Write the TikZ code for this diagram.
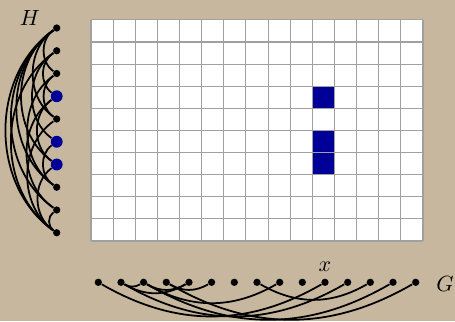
\documentclass[tikz,border=0pt]{standalone}
\definecolor{tanback}{RGB}{199, 183, 158}
\definecolor{domblue}{RGB}{0, 0, 153}
\definecolor{cellgray}{RGB}{160, 160, 160}
\usepackage{tikz}
\usetikzlibrary{positioning}

\tikzset{
  vertex/.style={circle, fill=black, inner sep=0pt, minimum size=3.3pt},
  hitvertex/.style={circle, fill=domblue, inner sep=0pt, minimum size=5.4pt},
  edge/.style={thick, black},
  hedge/.style={edge, bend right=55},
  gedge/.style={edge, bend right=30},
}

\begin{document}
\begin{tikzpicture}[x=0.4545pt, y=-0.4545pt]
  \fill[tanback] (0, 0) rectangle (455, 321);
  \useasboundingbox (0, 0) rectangle (455, 321);

  % domain table
  \begin{scope}[shift={(91, 241)}, x=10.06pt, y=10.05pt]
    \fill[white] (0, 0) rectangle (15, 10);
    \fill[domblue] (10, 6) rectangle (11, 7);
    \fill[domblue] (10, 4) rectangle (11, 5);
    \fill[domblue] (10, 3) rectangle (11, 4);
    \draw[cellgray, line width=0.5pt, xstep=10.06pt, ystep=10.05pt] (0, 0) grid (15, 10);
  \end{scope}

  % pattern graph H
  \node[vertex] (h0) at (56.7, 28) {};
  \node[vertex] (h1) at (56.7, 50.75) {};
  \node[vertex] (h2) at (56.7, 73.5) {};
  \node[hitvertex] (h3) at (56.7, 96.25) {};
  \node[vertex] (h4) at (56.7, 119) {};
  \node[hitvertex] (h5) at (56.7, 141.75) {};
  \node[hitvertex] (h6) at (56.7, 164.5) {};
  \node[vertex] (h7) at (56.7, 187.25) {};
  \node[vertex] (h8) at (56.7, 210) {};
  \node[vertex] (h9) at (56.7, 232.75) {};
  \node (hname) at (30, 18) {$H$};

  \draw[hedge] (h0) to (h2);
  \draw[hedge] (h0) to (h4);
  \draw[hedge] (h0) to (h6);
  \draw[hedge] (h0) to (h7);
  \draw[hedge] (h0) to (h8);
  \draw[hedge] (h0) to (h9);
  \draw[hedge] (h1) to (h3);
  \draw[hedge] (h1) to (h5);
  \draw[hedge] (h1) to (h9);
  \draw[hedge] (h2) to (h4);
  \draw[hedge] (h2) to (h7);
  \draw[hedge] (h3) to (h6);
  \draw[hedge] (h3) to (h8);
  \draw[hedge] (h4) to (h9);
  \draw[hedge] (h5) to (h7);
  \draw[hedge] (h6) to (h9);
  \draw[hedge] (h8) to (h9);

  % target graph G
  \node[vertex] (g0) at (98.3, 282.3) {};
  \node[vertex] (g1) at (121, 282.3) {};
  \node[vertex] (g2) at (143.6, 282.3) {};
  \node[vertex] (g3) at (166.3, 282.3) {};
  \node[vertex] (g4) at (189, 282.3) {};
  \node[vertex] (g5) at (211.6, 282.3) {};
  \node[vertex] (g6) at (234.3, 282.3) {};
  \node[vertex] (g7) at (257, 282.3) {};
  \node[vertex] (g8) at (279.7, 282.3) {};
  \node[vertex] (g9) at (302.3, 282.3) {};
  \node[vertex] (g10) at (325, 282.3) {};
  \node[vertex] (g11) at (347.7, 282.3) {};
  \node[vertex] (g12) at (370.3, 282.3) {};
  \node[vertex] (g13) at (393, 282.3) {};
  \node[vertex] (g14) at (415.7, 282.3) {};
  \node (xname) at (325, 267) {$x$};
  \node (gname) at (445, 284) {$G$};

  \draw[gedge] (g0) to (g10);
  \draw[gedge] (g1) to (g2);
  \draw[gedge] (g1) to (g4);
  \draw[gedge] (g1) to (g11);
  \draw[gedge] (g2) to (g4);
  \draw[gedge] (g2) to (g8);
  \draw[gedge] (g2) to (g13);
  \draw[gedge] (g3) to (g5);
  \draw[gedge] (g3) to (g14);
  \draw[gedge] (g7) to (g12);
\end{tikzpicture}
\end{document}
